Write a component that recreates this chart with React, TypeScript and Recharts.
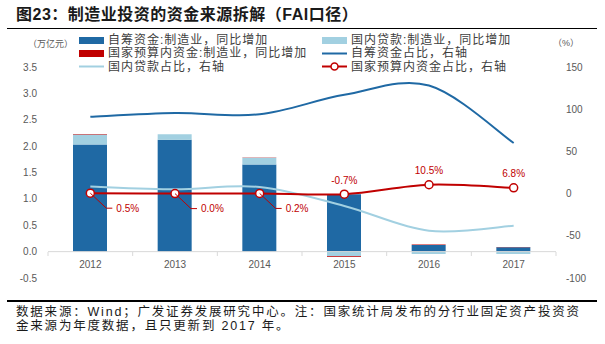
import React from 'react'
import {
  ComposedChart, Bar, Line, XAxis, YAxis, ReferenceLine,
} from 'recharts'

const YEARS = ['2012', '2013', '2014', '2015', '2016', '2017']

// 万亿元, left axis
const SELF_RAISED = [2.03, 2.12, 1.65, 1.09, 0.125, 0.085]
const DOMESTIC_LOANS = [0.19, 0.105, 0.13, -0.09, -0.045, -0.045]
const STATE_BUDGET = [0.01, 0.0, 0.005, -0.01, 0.01, 0.005]

// %, right axis
const SELF_SHARE = [91, 95.5, 94, 117, 128, 60]
const LOAN_SHARE = [8.3, 5.1, 7.8, -14.6, -44, -38]
const BUDGET_SHARE = [0.5, 0.0, 0.2, -0.7, 10.5, 6.8]

const LEFT_TICKS = [-0.5, 0, 0.5, 1, 1.5, 2, 2.5, 3, 3.5]
const RIGHT_TICKS = [-100, -50, 0, 50, 100, 150]

const DARK_BLUE = '#1f69a4'
const LIGHT_BLUE = '#a2d0e1'
const RED = '#c00000'
const AXIS_TEXT = '#595959'
const FONT = "'Liberation Sans', 'Noto Sans CJK SC', sans-serif"

const data = YEARS.map((year, i) => ({
  year,
  self: SELF_RAISED[i],
  loans: DOMESTIC_LOANS[i],
  budget: STATE_BUDGET[i],
  selfShare: SELF_SHARE[i],
  loanShare: LOAN_SHARE[i],
  budgetShare: BUDGET_SHARE[i],
}))

// Excel-like smoothing (Catmull-Rom as cubic beziers)
// eslint-disable-next-line @typescript-eslint/no-explicit-any
function smoothCurve(context: any) {
  let pts: number[][] = []
  return {
    areaStart() {},
    areaEnd() {},
    lineStart() { pts = [] },
    point(x: number, y: number) { pts.push([+x, +y]) },
    lineEnd() {
      if (!pts.length) return
      context.moveTo(pts[0][0], pts[0][1])
      for (let i = 0; i < pts.length - 1; i++) {
        const p0 = pts[i - 1] || pts[i]
        const p1 = pts[i]
        const p2 = pts[i + 1]
        const p3 = pts[i + 2] || p2
        context.bezierCurveTo(
          p1[0] + (p2[0] - p0[0]) / 6, p1[1] + (p2[1] - p0[1]) / 6,
          p2[0] - (p3[0] - p1[0]) / 6, p2[1] - (p3[1] - p1[1]) / 6,
          p2[0], p2[1],
        )
      }
    },
  }
}

const HALF_BAND = 508 / 12

// eslint-disable-next-line @typescript-eslint/no-explicit-any
function YearTick({ x, y, payload, index }: any) {
  return (
    <g>
      <line x1={x - HALF_BAND} x2={x - HALF_BAND} y1={y - 26} y2={y - 22} stroke="#d9d9d9" />
      {index === YEARS.length - 1 && (
        <line x1={x + HALF_BAND} x2={x + HALF_BAND} y1={y - 26} y2={y - 22} stroke="#d9d9d9" />
      )}
      <text x={x} y={y - 10} textAnchor="middle" fontSize={10} fill={AXIS_TEXT} fontFamily={FONT}>
        {payload.value}
      </text>
    </g>
  )
}

// eslint-disable-next-line @typescript-eslint/no-explicit-any
function BudgetLabel({ x, y, value, index }: any) {
  const text = `${Number(value).toFixed(1)}%`
  if (index < 3) {
    return (
      <g>
        <polyline
          points={`${x},${y} ${x + 16},${y + 15} ${x + 22},${y + 15}`}
          fill="none" stroke={RED} strokeWidth={1}
        />
        <text x={x + 26} y={y + 15} dy="0.35em" fontSize={10} fill={RED} fontFamily={FONT}>{text}</text>
      </g>
    )
  }
  return (
    <text x={x} y={y - 14} dy="0.35em" textAnchor="middle" fontSize={10} fill={RED} fontFamily={FONT}>
      {text}
    </text>
  )
}

const LEGEND = [
  { kind: 'bar', color: DARK_BLUE, label: '自筹资金:制造业，同比增加' },
  { kind: 'bar', color: LIGHT_BLUE, label: '国内贷款:制造业，同比增加' },
  { kind: 'bar', color: RED, label: '国家预算内资金:制造业，同比增加' },
  { kind: 'line', color: DARK_BLUE, label: '自筹资金占比，右轴' },
  { kind: 'line', color: LIGHT_BLUE, label: '国内贷款占比，右轴' },
  { kind: 'marker', color: RED, label: '国家预算内资金占比，右轴' },
]

function LegendIcon({ kind, color }: { kind: string; color: string }) {
  if (kind === 'bar') {
    return <div style={{ width: 25, height: 7, background: color }} />
  }
  return (
    <svg width={25} height={9} style={{ display: 'block' }}>
      <line x1={0} x2={25} y1={4.5} y2={4.5} stroke={color} strokeWidth={2} />
      {kind === 'marker' && <circle cx={12.5} cy={4.5} r={3.5} fill="#fff" stroke={color} strokeWidth={1.5} />}
    </svg>
  )
}

export default function App() {
  return (
    <div style={{ position: 'fixed', left: 0, top: 0, width: 605, height: 344, background: '#fff', fontFamily: FONT, overflow: 'hidden' }}>
      <div style={{ position: 'absolute', left: 16, top: 5, fontSize: 16, fontWeight: 700, letterSpacing: 0.5, color: '#1a1a1a', lineHeight: '20px', whiteSpace: 'nowrap' }}>
        图23：制造业投资的资金来源拆解（FAI口径）
      </div>
      <div style={{ position: 'absolute', left: 7, top: 27.5, width: 590, height: 1.5, background: '#000' }} />

      <div style={{ position: 'absolute', top: 0, left: 0 }}>
        <ComposedChart
          width={605}
          height={290}
          data={data}
          stackOffset="sign"
          margin={{ top: 67, right: 0, bottom: 0, left: 0 }}
        >
          <XAxis
            dataKey="year"
            xAxisId="x"
            height={12}
            axisLine={false}
            tickLine={false}
            tickSize={0}
            tickMargin={0}
            interval={0}
            tick={<YearTick />}
          />
          <YAxis
            yAxisId="left"
            width={48}
            domain={[-0.5, 3.5]}
            ticks={LEFT_TICKS}
            interval={0}
            tickFormatter={(v: number) => v.toFixed(1)}
            axisLine={false}
            tickLine={false}
            tickSize={6}
            tickMargin={5}
            tick={{ fontSize: 10, fill: AXIS_TEXT, fontFamily: FONT }}
          />
          <YAxis
            yAxisId="right"
            orientation="right"
            width={49}
            domain={[-100, 150]}
            ticks={RIGHT_TICKS}
            interval={0}
            axisLine={false}
            tickLine={false}
            tickSize={6}
            tickMargin={4}
            tick={{ fontSize: 10, fill: AXIS_TEXT, fontFamily: FONT, textAnchor: 'start' }}
          />
          <Bar xAxisId="x" yAxisId="left" dataKey="self" stackId="a" fill={DARK_BLUE} barSize={34} isAnimationActive={false} />
          <Bar xAxisId="x" yAxisId="left" dataKey="loans" stackId="a" fill={LIGHT_BLUE} barSize={34} isAnimationActive={false} />
          <Bar xAxisId="x" yAxisId="left" dataKey="budget" stackId="a" fill={RED} barSize={34} isAnimationActive={false} />
          <ReferenceLine xAxisId="x" yAxisId="left" y={0} stroke="#d9d9d9" strokeWidth={1} />
          <Line
            xAxisId="x" yAxisId="right" dataKey="selfShare"
            // eslint-disable-next-line @typescript-eslint/no-explicit-any
            type={smoothCurve as any}
            stroke={DARK_BLUE} strokeWidth={2} dot={false} isAnimationActive={false}
          />
          <Line
            xAxisId="x" yAxisId="right" dataKey="loanShare"
            // eslint-disable-next-line @typescript-eslint/no-explicit-any
            type={smoothCurve as any}
            stroke={LIGHT_BLUE} strokeWidth={2} dot={false} isAnimationActive={false}
          />
          <Line
            xAxisId="x" yAxisId="right" dataKey="budgetShare"
            // eslint-disable-next-line @typescript-eslint/no-explicit-any
            type={smoothCurve as any}
            stroke={RED} strokeWidth={2}
            dot={{ r: 4, fill: '#fff', stroke: RED, strokeWidth: 1.5 }}
            label={<BudgetLabel />}
            isAnimationActive={false}
          />
        </ComposedChart>
      </div>

      {LEGEND.map((item, i) => {
        const col = i % 2
        const row = Math.floor(i / 2)
        const top = 40 + row * 13.3
        return (
          <div
            key={item.label}
            style={{ position: 'absolute', left: col === 0 ? 79 : 322, top: top - 7, height: 14, display: 'flex', alignItems: 'center', whiteSpace: 'nowrap' }}
          >
            <LegendIcon kind={item.kind} color={item.color} />
            <span style={{ marginLeft: 4, fontSize: 12, letterSpacing: 1, color: '#404040', lineHeight: '14px' }}>{item.label}</span>
          </div>
        )
      })}

      <div style={{ position: 'absolute', left: 28, top: 38, fontSize: 9, color: AXIS_TEXT, lineHeight: '12px', whiteSpace: 'nowrap' }}>（万亿元）</div>
      <div style={{ position: 'absolute', left: 553, top: 37, fontSize: 9, color: AXIS_TEXT, lineHeight: '12px', whiteSpace: 'nowrap' }}>（%）</div>

      <div style={{ position: 'absolute', left: 7, top: 300, width: 590, height: 1.5, background: '#000' }} />
      <div style={{ position: 'absolute', left: 16, top: 305, fontSize: 12.5, letterSpacing: 1.8, color: '#1a1a1a', lineHeight: '14.3px', whiteSpace: 'nowrap' }}>
        <div>数据来源：Wind；广发证券发展研究中心。注：国家统计局发布的分行业固定资产投资资</div>
        <div>金来源为年度数据，且只更新到 2017 年。</div>
      </div>
    </div>
  )
}
